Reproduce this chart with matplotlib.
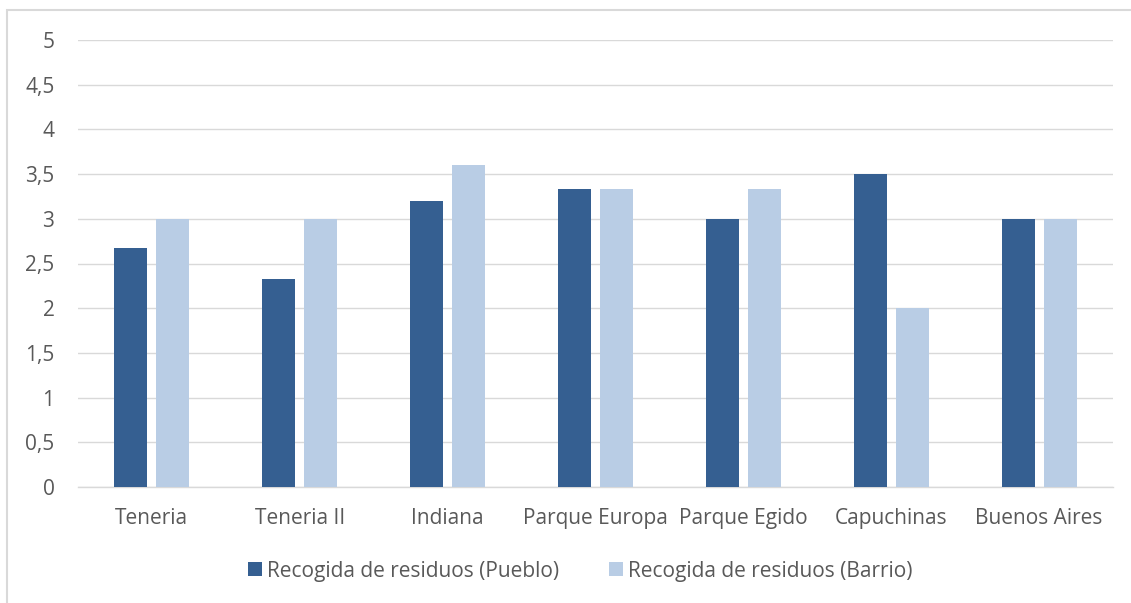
import matplotlib.pyplot as plt
import numpy as np
from matplotlib.patches import Rectangle

categories = ['Teneria', 'Teneria II', 'Indiana', 'Parque Europa', 'Parque Egido', 'Capuchinas', 'Buenos Aires']
pueblo = [2.67, 2.33, 3.2, 3.33, 3.0, 3.5, 3.0]
barrio = [3.0, 3.0, 3.6, 3.33, 3.33, 2.0, 3.0]
series_names = ['Recogida de residuos (Pueblo)', 'Recogida de residuos (Barrio)']
yticks = [0, 0.5, 1, 1.5, 2, 2.5, 3, 3.5, 4, 4.5, 5]
ytick_labels = ['0', '0,5', '1', '1,5', '2', '2,5', '3', '3,5', '4', '4,5', '5']

plt.rcParams['font.family'] = ['Open Sans', 'DejaVu Sans']
text_color = '#595959'
grid_color = '#D9D9D9'

fig = plt.figure(figsize=(11.31, 6.03), dpi=100)
ax = fig.add_axes([78/1131, 1 - 487/603, (1113-78)/1131, (487-40)/603])

# chart frame (Excel style border)
fig.patches.append(Rectangle((7/1131, -0.1), 1.1, 1 - 10/603 + 0.1, transform=fig.transFigure,
                             fill=False, edgecolor=grid_color, linewidth=1.5))

x = np.arange(len(categories))
w = 0.223
ax.bar(x - 0.142, pueblo, w, color='#355F91', label=series_names[0], zorder=3)
ax.bar(x + 0.142, barrio, w, color='#B9CDE5', label=series_names[1], zorder=3)

ax.set_xlim(-0.5, len(categories) - 0.5)
ax.set_ylim(0, 5)
ax.set_yticks(yticks)
ax.set_yticklabels(ytick_labels)
ax.set_xticks(x)
ax.set_xticklabels(categories)
ax.tick_params(axis='both', length=0, labelsize=15, colors=text_color)
ax.tick_params(axis='y', pad=17)
ax.tick_params(axis='x', pad=15)
ax.grid(axis='y', color=grid_color, linewidth=1, zorder=0)
for s in ['top', 'right', 'left']:
    ax.spines[s].set_visible(False)
ax.spines['bottom'].set_color(grid_color)
ax.spines['bottom'].set_linewidth(1)

fig.legend(loc='center', bbox_to_anchor=(580/1131, 1 - 571/603), ncol=2, frameon=False,
           fontsize=15, labelcolor=text_color, handlelength=0.67, handleheight=0.67,
           handletextpad=0.24, columnspacing=2.4)

fig.savefig('out.png', dpi=100)
